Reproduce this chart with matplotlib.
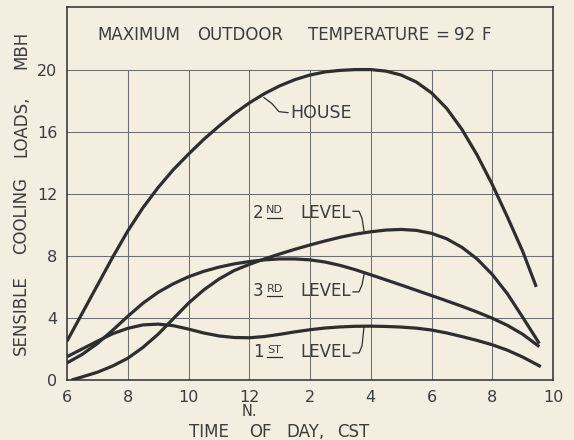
import numpy as np
import matplotlib
matplotlib.use("Agg")
import matplotlib.pyplot as plt

# ---- data: sensible cooling loads (MBH) by hour of day (6 = 6 AM, 22 = 10 PM) ----
house_hours = [6, 6.5, 7, 7.5, 8, 8.5, 9, 9.5, 10, 10.5, 11, 11.5, 12, 12.5, 13, 13.5,
               14, 14.5, 15, 15.5, 16, 16.5, 17, 17.5, 18, 18.5, 19, 19.5, 20, 20.5,
               21, 21.45]
house_load = [2.5, 4.3, 6.1, 7.9, 9.6, 11.1, 12.4, 13.55, 14.55, 15.5, 16.35, 17.15,
              17.85, 18.45, 18.95, 19.35, 19.65, 19.85, 19.95, 20.0, 20.0, 19.9, 19.65,
              19.2, 18.5, 17.5, 16.15, 14.5, 12.6, 10.5, 8.3, 6.0]

second_hours = [6.15, 6.5, 7, 7.5, 8, 8.5, 9, 9.5, 10, 10.5, 11, 11.5, 12, 12.5, 13,
                13.5, 14, 14.5, 15, 15.5, 16, 16.5, 17, 17.5, 18, 18.5, 19, 19.5, 20,
                20.5, 21, 21.55]
second_load = [0.0, 0.2, 0.5, 0.9, 1.4, 2.1, 2.95, 3.95, 4.95, 5.8, 6.5, 7.05, 7.45,
               7.8, 8.12, 8.42, 8.7, 8.96, 9.2, 9.4, 9.55, 9.66, 9.7, 9.64, 9.45, 9.1,
               8.55, 7.8, 6.8, 5.55, 4.05, 2.35]

third_hours = [6, 6.5, 7, 7.5, 8, 8.5, 9, 9.5, 10, 10.5, 11, 11.5, 12, 12.5, 13, 13.5,
               14, 14.5, 15, 15.5, 16, 16.5, 17, 17.5, 18, 18.5, 19, 19.5, 20, 20.5,
               21, 21.55]
third_load = [1.1, 1.65, 2.35, 3.2, 4.1, 4.95, 5.65, 6.2, 6.65, 7.0, 7.27, 7.48, 7.63,
              7.74, 7.8, 7.8, 7.74, 7.6, 7.38, 7.1, 6.78, 6.45, 6.12, 5.78, 5.44, 5.1,
              4.75, 4.38, 3.98, 3.52, 2.95, 2.15]

first_hours = [6, 6.5, 7, 7.5, 8, 8.5, 9, 9.5, 10, 10.5, 11, 11.5, 12, 12.5, 13, 13.5,
               14, 14.5, 15, 15.5, 16, 16.5, 17, 17.5, 18, 18.5, 19, 19.5, 20, 20.5,
               21, 21.6]
first_load = [1.5, 2.0, 2.5, 2.98, 3.33, 3.55, 3.6, 3.5, 3.28, 3.03, 2.84, 2.74, 2.72,
              2.8, 2.94, 3.1, 3.24, 3.35, 3.42, 3.46, 3.47, 3.45, 3.41, 3.34, 3.22,
              3.03, 2.8, 2.55, 2.27, 1.92, 1.48, 0.86]

x_ticks = [6, 8, 10, 12, 14, 16, 18, 20, 22]
x_tick_labels = ["6", "8", "10", "12", "2", "4", "6", "8", "10"]
y_ticks = [0, 4, 8, 12, 16, 20]
y_tick_labels = ["0", "4", "8", "12", "16", "20"]

# ---- styling ----
PAPER = "#f4eee1"
INK = "#2e2e2e"
TEXT = "#3c3c3c"
GRID = "#6e6e6e"
W, H = 574, 440

fig = plt.figure(figsize=(W / 100, H / 100), dpi=100, facecolor=PAPER)
ax = fig.add_axes([67 / W, 1 - 380 / H, (553 - 67) / W, (380 - 7.5) / H])
ax.set_facecolor(PAPER)
ax.set_xlim(6, 22)
ax.set_ylim(0, 24.0)

for s in ax.spines.values():
    s.set_color(INK)
    s.set_linewidth(1.1)

ax.set_xticks(x_ticks)
ax.set_xticklabels(x_tick_labels)
ax.set_yticks(y_ticks)
ax.set_yticklabels(y_tick_labels)
ax.tick_params(length=0, labelsize=11.5, labelcolor=TEXT, pad=7)

# horizontal rules across the full width; vertical rules stop under the heading band
ax.grid(True, axis="y", color=GRID, linewidth=0.75)
ax.vlines(x_ticks[1:-1], y_ticks[0], y_ticks[-1], color=GRID, linewidth=0.75, zorder=0.5)
ax.set_axisbelow(True)

curve_kw = dict(color=INK, linewidth=2.3, solid_capstyle="butt", solid_joinstyle="round")
ax.plot(house_hours, house_load, **curve_kw)
ax.plot(second_hours, second_load, **curve_kw)
ax.plot(third_hours, third_load, **curve_kw)
ax.plot(first_hours, first_load, **curve_kw)


def ftext(px, py, s, size=12, **kw):
    """Place text at a pixel position of the figure (origin top-left)."""
    kw.setdefault("ha", "center")
    kw.setdefault("va", "center")
    return fig.text(px / W, 1 - py / H, s, fontsize=size, color=TEXT, **kw)


# heading inside the frame
for word, cx in [("MAXIMUM", 138.5), ("OUTDOOR", 240.5), ("TEMPERATURE", 368.5),
                 ("=", 442.5), ("92", 465), ("F", 486)]:
    ftext(cx, 35, word, size=12)

# axis titles
for word, cx in [("TIME", 208.5), ("OF", 260), ("DAY,", 305), ("CST", 353.5)]:
    ftext(cx, 432, word, size=12)
ftext(249, 411, "N.", size=10.5)
for word, cy in [("SENSIBLE", 315), ("COOLING", 215), ("LOADS,", 126), ("MBH", 50)]:
    ftext(21, cy, word, size=12, rotation=90)


# curve labels with leader lines
def leader(points):
    xs = [6 + (p[0] - 67) / 30.375 for p in points]
    ys = [(380 - p[1]) / 15.5 for p in points]
    ax.plot(xs, ys, color=INK, linewidth=0.9)


ftext(290, 113, "HOUSE", size=12.5, ha="left")
leader([(264, 98), (272, 104), (279, 112), (288, 113)])

for num, sup, cy, tip in [("2", "ND", 212.5, 231), ("3", "RD", 291, 275), ("1", "ST", 352, 327)]:
    ftext(258.5, cy, num, size=12)
    ftext(274.5, cy - 2.5, sup, size=8)
    fig.add_artist(plt.Line2D([267 / W, 282 / W], [1 - (cy + 5) / H, 1 - (cy + 5) / H],
                              color=INK, linewidth=0.9))
    ftext(300, cy, "LEVEL", size=12, ha="left")
    if num == "2":
        leader([(353, cy - 1), (359, cy - 1), (362, cy + 6), (364, tip)])
    else:
        leader([(353, cy + 1), (359, cy + 1), (362, cy - 6), (364, tip)])

fig.savefig("out.png", dpi=100, facecolor=PAPER)
